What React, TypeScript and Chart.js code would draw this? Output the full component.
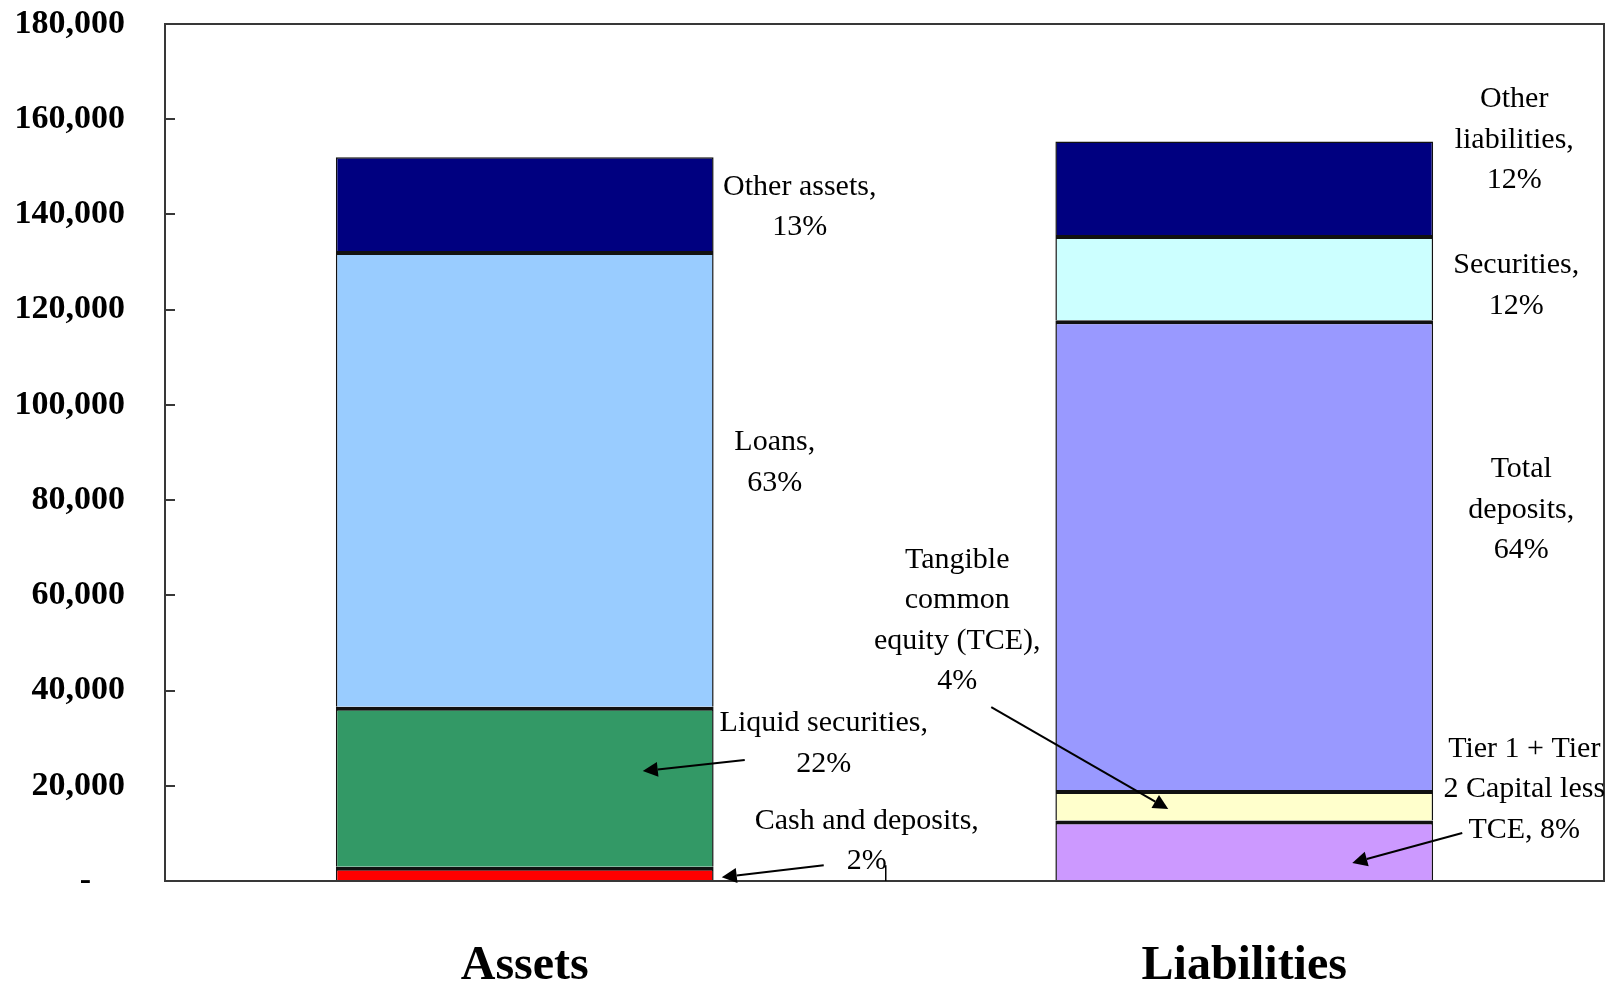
import React, { useEffect, useRef } from 'react';
import { Chart, registerables } from 'chart.js';

Chart.register(...registerables);

// ---- data ----
const categories = ['Assets', 'Liabilities'];
const yMin = 0;
const yMax = 180000;
const yStep = 20000;

// stacked from bottom to top
const assetLabels = ['Cash and deposits', 'Liquid securities', 'Loans', 'Other assets'];
const assetValues = [3000, 33600, 95700, 19700];
const assetColors = ['#FF0000', '#339966', '#99CCFF', '#000080'];

const liabilityLabels = [
  'Tier 1 + Tier 2 Capital less TCE',
  'Tangible common equity (TCE)',
  'Total deposits',
  'Securities',
  'Other liabilities',
];
const liabilityValues = [12700, 6400, 98700, 17900, 19600];
const liabilityColors = ['#CC99FF', '#FFFFCC', '#9999FF', '#CCFFFF', '#000080'];

// annotation texts
const noteOtherAssets = ['Other assets,', '13%'];
const noteLoans = ['Loans,', '63%'];
const noteLiquid = ['Liquid securities,', '22%'];
const noteCash = ['Cash and deposits,', '2%'];
const noteTCE = ['Tangible', 'common', 'equity (TCE),', '4%'];
const noteOtherLiab = ['Other', 'liabilities,', '12%'];
const noteSecurities = ['Securities,', '12%'];
const noteDeposits = ['Total', 'deposits,', '64%'];
const noteTier = ['Tier 1 + Tier', '2 Capital less', 'TCE, 8%'];

// ---- layout of notes: category index, pixel offset from category centre, value of first line ----
const notes = [
  { lines: noteOtherAssets, cat: 0, dx: 275, v: 145800 },
  { lines: noteLoans, cat: 0, dx: 250, v: 92100 },
  { lines: noteLiquid, cat: 0, dx: 299, v: 33100 },
  { lines: noteCash, cat: 0, dx: 342, v: 12600 },
  { lines: noteTCE, cat: 1, dx: -287, v: 67400 },
  { lines: noteOtherLiab, cat: 1, dx: 270, v: 164200 },
  { lines: noteSecurities, cat: 1, dx: 272, v: 129300 },
  { lines: noteDeposits, cat: 1, dx: 277, v: 86500 },
  { lines: noteTier, cat: 1, dx: 280, v: 27700 },
];

const arrows = [
  { cat: 0, dx1: 220, v1: 25400, dx2: 118, v2: 23100 },
  { cat: 0, dx1: 299, v1: 3300, dx2: 197, v2: 800 },
  { cat: 1, dx1: -253, v1: 36500, dx2: -76, v2: 15100 },
  { cat: 1, dx1: 218, v1: 10100, dx2: 108, v2: 3800 },
];

const SERIF = '"Liberation Serif", "Times New Roman", serif';

function drawArrow(ctx: CanvasRenderingContext2D, x1: number, y1: number, x2: number, y2: number) {
  const ang = Math.atan2(y2 - y1, x2 - x1);
  const L = 15;
  const W = 7.5;
  const bx = x2 - L * Math.cos(ang);
  const by = y2 - L * Math.sin(ang);
  ctx.beginPath();
  ctx.moveTo(x1, y1);
  ctx.lineTo(bx, by);
  ctx.stroke();
  ctx.beginPath();
  ctx.moveTo(x2, y2);
  ctx.lineTo(bx + W * Math.sin(ang), by - W * Math.cos(ang));
  ctx.lineTo(bx - W * Math.sin(ang), by + W * Math.cos(ang));
  ctx.closePath();
  ctx.fill();
}

const decorPlugin = {
  id: 'decor',
  afterDraw(chart: any) {
    const { ctx, chartArea, scales } = chart;
    const x = scales.x;
    const y = scales.y;
    ctx.save();
    // frame
    ctx.strokeStyle = '#383838';
    ctx.lineWidth = 2;
    ctx.strokeRect(chartArea.left, chartArea.top, chartArea.right - chartArea.left, chartArea.bottom - chartArea.top);
    // inward tick marks
    ctx.lineWidth = 2;
    y.ticks.forEach((t: any) => {
      if (t.value <= yMin || t.value >= yMax) return;
      const py = Math.round(y.getPixelForValue(t.value));
      ctx.beginPath();
      ctx.moveTo(chartArea.left, py);
      ctx.lineTo(chartArea.left + 10, py);
      ctx.stroke();
    });

    // notes
    ctx.fillStyle = '#000';
    ctx.font = `30px ${SERIF}`;
    ctx.textAlign = 'center';
    ctx.textBaseline = 'middle';
    const lineGap = 40.5;
    notes.forEach((n) => {
      const cx = x.getPixelForValue(n.cat) + n.dx;
      const cy = y.getPixelForValue(n.v);
      n.lines.forEach((s, i) => ctx.fillText(s, cx, cy + i * lineGap));
    });

    // arrows
    ctx.strokeStyle = '#000';
    ctx.fillStyle = '#000';
    ctx.lineWidth = 2;
    arrows.forEach((a) => {
      const c = x.getPixelForValue(a.cat);
      drawArrow(ctx, c + a.dx1, y.getPixelForValue(a.v1), c + a.dx2, y.getPixelForValue(a.v2));
    });

    // small leader stub under the "2%" note
    const c0 = x.getPixelForValue(0);
    ctx.lineWidth = 1.5;
    ctx.beginPath();
    ctx.moveTo(c0 + 361, y.getPixelForValue(3300));
    ctx.lineTo(c0 + 361, y.getPixelForValue(0));
    ctx.stroke();
    ctx.restore();
  },
};

export default function App() {
  const ref = useRef<HTMLCanvasElement | null>(null);

  useEffect(() => {
    if (!ref.current) return;
    const inner = { top: 4, bottom: 0, left: 1.5, right: 1.5 };
    const outer = { top: 1.5, bottom: 0, left: 1.5, right: 1.5 };
    const datasets: any[] = [];
    assetValues.forEach((v, i) => {
      datasets.push({
        label: assetLabels[i],
        data: [v, null],
        backgroundColor: assetColors[i],
        borderColor: '#111',
        borderWidth: i === assetValues.length - 1 ? outer : inner,
        borderSkipped: false,
        stack: 's',
      });
    });
    liabilityValues.forEach((v, i) => {
      datasets.push({
        label: liabilityLabels[i],
        data: [null, v],
        backgroundColor: liabilityColors[i],
        borderColor: '#111',
        borderWidth: i === liabilityValues.length - 1 ? outer : inner,
        borderSkipped: false,
        stack: 's',
      });
    });

    const chart = new Chart(ref.current, {
      type: 'bar',
      data: { labels: categories, datasets },
      options: {
        animation: false,
        responsive: false,
        maintainAspectRatio: false,
        layout: { padding: { top: 24, right: 2, left: 0, bottom: 0 } },
        datasets: { bar: { categoryPercentage: 1, barPercentage: 0.525 } },
        plugins: { legend: { display: false }, tooltip: { enabled: false } },
        scales: {
          x: {
            stacked: true,
            grid: { display: false, drawTicks: false },
            border: { display: false },
            ticks: {
              color: '#000',
              padding: 57,
              font: { family: SERIF, size: 48, weight: 'bold' },
            },
            afterFit: (s: any) => {
              s.height = 106;
              s.paddingLeft = 0;
              s.paddingRight = 0;
              s.paddingTop = 0;
              s.paddingBottom = 0;
            },
          },
          y: {
            stacked: true,
            min: yMin,
            max: yMax,
            grid: { display: false, drawTicks: false },
            border: { display: false },
            ticks: {
              stepSize: yStep,
              color: '#000',
              padding: 40,
              font: { family: SERIF, size: 34, weight: 'bold' },
              callback: (v: any) => (Number(v) === 0 ? '-\u2007\u2007' : Number(v).toLocaleString('en-US')),
            },
            afterFit: (s: any) => {
              s.width = 165;
              s.paddingTop = 0;
              s.paddingBottom = 0;
              s.paddingLeft = 0;
              s.paddingRight = 0;
            },
          },
        },
      },
      plugins: [decorPlugin],
    });
    return () => chart.destroy();
  }, []);

  return (
    <div style={{ position: 'absolute', left: 0, top: 0, width: 1606, height: 987, background: '#fff' }}>
      <canvas ref={ref} width={1606} height={987} style={{ width: 1606, height: 987, display: 'block' }} />
    </div>
  );
}
